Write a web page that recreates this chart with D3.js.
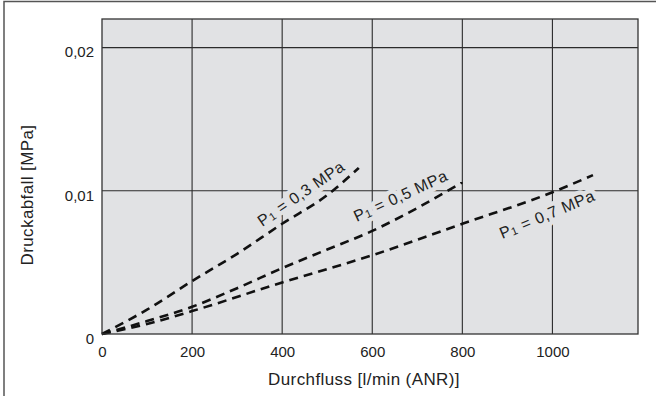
<!DOCTYPE html>
<html>
<head>
<meta charset="utf-8">
<script src="https://cdn.jsdelivr.net/npm/d3@7"></script>
<style>
  body { margin: 0; background: #fff; }
  svg { display: block; font-family: "Liberation Sans", Arial, sans-serif; }
</style>
</head>
<body>
<div class="container"></div>
<script>
const width = 656, height = 396;

// values
const xTicks = [0, 200, 400, 600, 800, 1000];
const xTickLabels = ['0', '200', '400', '600', '800', '1000'];
const yTicks = [0, 0.01, 0.02];
const yTickLabels = ['0', '0,01', '0,02'];

const flow03 = [0, 100, 200, 300, 400, 500, 570];
const drop03 = [0, 0.0017, 0.0037, 0.0056, 0.0077, 0.0097, 0.0116];
const flow05 = [0, 100, 200, 300, 400, 500, 600, 700, 800];
const drop05 = [0, 0.0009, 0.0019, 0.0032, 0.0046, 0.0059, 0.0072, 0.0088, 0.0106];
const flow07 = [0, 100, 200, 400, 600, 800, 1000, 1090];
const drop07 = [0, 0.0007, 0.0016, 0.0036, 0.0055, 0.0077, 0.0099, 0.0111];

const curveNames = ['0,3', '0,5', '0,7'];
const labelFlow = [449, 668, 993];
const labelDrop = [0.0095, 0.0093, 0.0080];
const labelAngle = [-34.6, -24.7, -22.7];

const x = d3.scaleLinear().domain([0, 1190]).range([102, 638]);
const y = d3.scaleLinear().domain([0, 0.022]).range([334, 19]);

const bg = '#e1e2e4';

const svg = d3.select('.container')
    .append('svg')
    .attr('width', width)
    .attr('height', height);

// outer frame (only top and left visible)
svg.append('path')
    .attr('d', `M4,${height} V1.5 H${width}`)
    .attr('fill', 'none')
    .attr('stroke', '#555')
    .attr('stroke-width', 1.5);

svg.append('rect')
    .attr('x', x(0))
    .attr('y', y(0.022))
    .attr('width', x(1190) - x(0))
    .attr('height', y(0) - y(0.022))
    .attr('fill', bg);

// grid
svg.append('g')
    .selectAll('line')
    .data(xTicks.slice(1))
    .enter()
    .append('line')
    .attr('x1', d => x(d)).attr('x2', d => x(d))
    .attr('y1', y(0)).attr('y2', y(0.022))
    .attr('stroke', '#2b2b2b')
    .attr('stroke-width', 1.1);

svg.append('g')
    .selectAll('line')
    .data(yTicks.slice(1))
    .enter()
    .append('line')
    .attr('x1', x(0)).attr('x2', x(1190))
    .attr('y1', d => y(d)).attr('y2', d => y(d))
    .attr('stroke', '#2b2b2b')
    .attr('stroke-width', 1.1);

// curve labels; a halo copy underneath cuts the grid
function addLabel(sel, halo) {
    const t = sel.append('text')
        .attr('transform', (d, i) => `translate(${x(labelFlow[i])},${y(labelDrop[i])}) rotate(${labelAngle[i]})`)
        .attr('text-anchor', 'middle')
        .attr('font-size', 16)
        .attr('letter-spacing', 0.6)
        .attr('fill', halo ? bg : '#222');
    if (halo) {
        t.attr('stroke', bg).attr('stroke-width', 9).attr('stroke-linejoin', 'round');
    }
    t.append('tspan').text('P');
    t.append('tspan').attr('font-size', 11).attr('dy', 1).text('1');
    t.append('tspan').attr('dy', -1).text(d => ` = ${d} MPa`);
}

const labelGroups = svg.append('g')
    .selectAll('g')
    .data(curveNames)
    .enter()
    .append('g');
addLabel(labelGroups, true);
addLabel(labelGroups, false);

// curves
const line = d3.line().x(d => x(d[0])).y(d => y(d[1])).curve(d3.curveMonotoneX);
const series = [
    d3.zip(flow03, drop03),
    d3.zip(flow05, drop05),
    d3.zip(flow07, drop07)
];

svg.append('g')
    .selectAll('path')
    .data(series)
    .enter()
    .append('path')
    .attr('d', line)
    .attr('fill', 'none')
    .attr('stroke', '#111')
    .attr('stroke-width', 2.6)
    .attr('stroke-dasharray', '9,6');

// plot border
svg.append('rect')
    .attr('x', x(0))
    .attr('y', y(0.022))
    .attr('width', x(1190) - x(0))
    .attr('height', y(0) - y(0.022))
    .attr('fill', 'none')
    .attr('stroke', '#333')
    .attr('stroke-width', 1.3);

// axes
const xAxis = svg.append('g')
    .attr('transform', `translate(0,${y(0)})`)
    .call(d3.axisBottom(x).tickValues(xTicks).tickSize(0).tickPadding(12)
        .tickFormat((d, i) => xTickLabels[i]))
    .attr('font-family', null)
    .attr('font-size', 15);
xAxis.select('.domain').remove();
xAxis.selectAll('text').attr('fill', '#222');

const yAxis = svg.append('g')
    .attr('transform', `translate(${x(0)},0)`)
    .call(d3.axisLeft(y).tickValues(yTicks).tickSize(0).tickPadding(8)
        .tickFormat((d, i) => yTickLabels[i]))
    .attr('font-family', null)
    .attr('font-size', 15);
yAxis.select('.domain').remove();
yAxis.selectAll('text').attr('fill', '#222').attr('dy', '0.62em');

svg.append('text')
    .attr('x', 364)
    .attr('y', 385)
    .attr('text-anchor', 'middle')
    .attr('font-size', 17)
    .attr('letter-spacing', 0.4)
    .attr('fill', '#222')
    .text('Durchfluss [l/min (ANR)]');

svg.append('text')
    .attr('transform', 'translate(33,195) rotate(-90)')
    .attr('text-anchor', 'middle')
    .attr('font-size', 17)
    .attr('letter-spacing', 0.4)
    .attr('fill', '#222')
    .text('Druckabfall [MPa]');
</script>
</body>
</html>
